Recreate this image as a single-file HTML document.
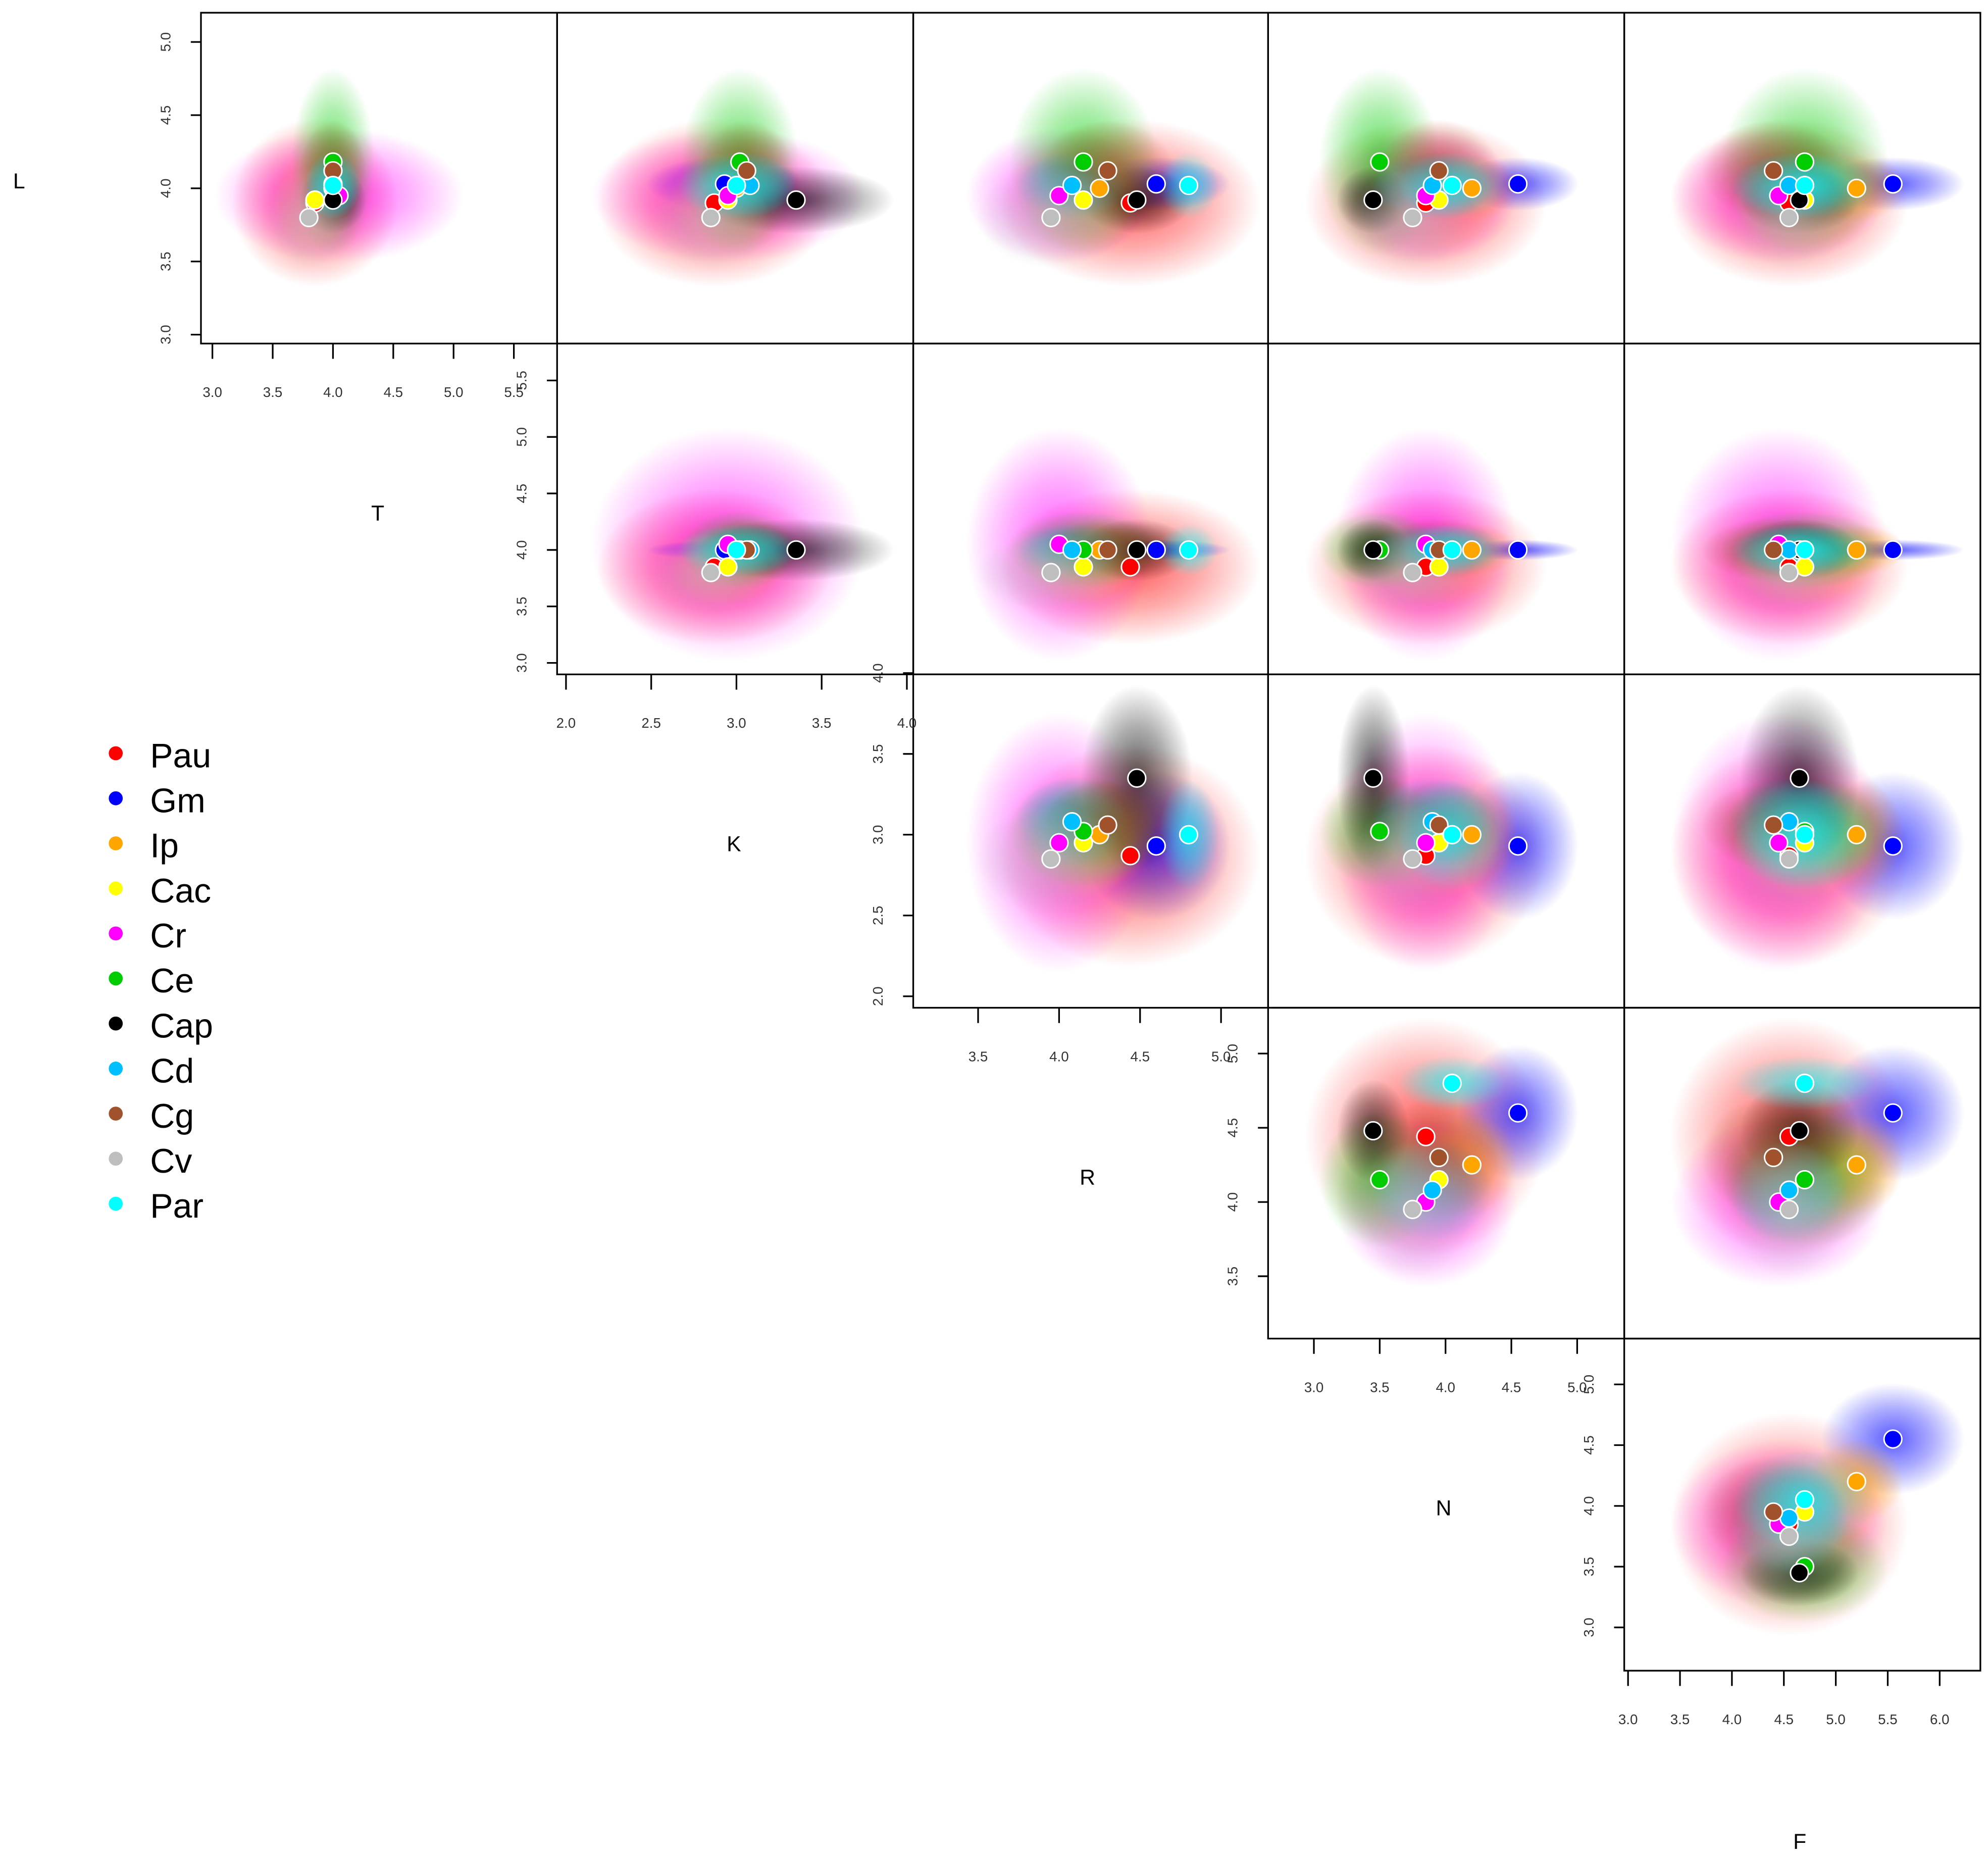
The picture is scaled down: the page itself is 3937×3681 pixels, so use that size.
<!DOCTYPE html>
<html><head><meta charset="utf-8"><style>
html,body{margin:0;padding:0;background:#fff}
svg{display:block}
text{font-family:"Liberation Sans",sans-serif}
</style></head><body>
<svg id="chart" xmlns="http://www.w3.org/2000/svg" width="3937" height="3681" viewBox="0 0 1563 1461" preserveAspectRatio="none">
<defs id="defs"></defs>
<g id="clouds"></g>
<g id="means"></g>
<g id="frames"></g>
<g id="axes"></g>
<g id="legend"></g>
</svg>
<script>
// ---- data ----
const variables = ["L","T","K","R","N","F"];
const species = ["Pau","Gm","Ip","Cac","Cr","Ce","Cap","Cd","Cg","Cv","Par"];
const colors = ["#ff0000","#0000ff","#ffa500","#ffff00","#ff00ff","#00cc00","#000000","#00bfff","#a0522d","#bebebe","#00ffff"];
// means per species: L, T, K, R, N, F
const meanPau = [3.90,3.85,2.87,4.44,3.85,4.55];
const meanGm  = [4.03,4.00,2.93,4.60,4.55,5.55];
const meanIp  = [4.00,4.00,3.00,4.25,4.20,5.20];
const meanCac = [3.92,3.85,2.95,4.15,3.95,4.70];
const meanCr  = [3.95,4.05,2.95,4.00,3.85,4.45];
const meanCe  = [4.18,4.00,3.02,4.15,3.50,4.70];
const meanCap = [3.92,4.00,3.35,4.48,3.45,4.65];
const meanCd  = [4.02,4.00,3.08,4.08,3.90,4.55];
const meanCg  = [4.12,4.00,3.06,4.30,3.95,4.40];
const meanCv  = [3.80,3.80,2.85,3.95,3.75,4.55];
const meanPar = [4.02,4.00,3.00,4.80,4.05,4.70];
// spread (sd) per species: L, T, K, R, N, F
const sdPau = [0.25,0.30,0.30,0.35,0.40,0.50];
const sdGm  = [0.08,0.04,0.20,0.20,0.20,0.30];
const sdIp  = [0.10,0.10,0.15,0.15,0.15,0.20];
const sdCac = [0.15,0.15,0.15,0.15,0.20,0.30];
const sdCr  = [0.20,0.45,0.35,0.25,0.30,0.45];
const sdCe  = [0.28,0.15,0.15,0.20,0.20,0.35];
const sdCap = [0.10,0.12,0.25,0.15,0.12,0.25];
const sdCd  = [0.10,0.10,0.12,0.15,0.20,0.25];
const sdCg  = [0.15,0.12,0.12,0.18,0.20,0.30];
const sdCv  = [0.15,0.15,0.15,0.20,0.20,0.25];
const sdPar = [0.10,0.10,0.15,0.08,0.18,0.30];
const ticksL = [3.0,3.5,4.0,4.5,5.0];
const ticksT = [3.0,3.5,4.0,4.5,5.0,5.5];
const ticksK = [2.0,2.5,3.0,3.5,4.0];
const ticksR = [3.5,4.0,4.5,5.0];
const ticksN = [3.0,3.5,4.0,4.5,5.0];
const ticksF = [3.0,3.5,4.0,4.5,5.0,5.5,6.0];

const means=[meanPau,meanGm,meanIp,meanCac,meanCr,meanCe,meanCap,meanCd,meanCg,meanCv,meanPar];
const sds=[sdPau,sdGm,sdIp,sdCac,sdCr,sdCe,sdCap,sdCd,sdCg,sdCv,sdPar];
const ticks=[ticksL,ticksT,ticksK,ticksR,ticksN,ticksF];

// ---- layout ----
const colX=[158,438,718,997,1277,1557];
const rowY=[10,270,530,792,1052,1313];
const xs=[
 v=>167+(v-3)/2.5*237,
 v=>445+(v-2)/2*268,
 v=>769+(v-3.5)/1.5*191,
 v=>1033+(v-3)/2*207,
 v=>1280+(v-3)/3*245];
const ys=[
 v=>263-(v-3)/2*230,
 v=>521-(v-3)/2.5*222,
 v=>783-(v-2)/2*254,
 v=>1003-(v-3.5)/1.5*175,
 v=>1279-(v-3)/2*191];
const xunit=[237/2.5,268/2,191/1.5,207/2,245/3];
const yunit=[230/2,222/2.5,254/2,175/1.5,191/2];

const NS="http://www.w3.org/2000/svg";
function mk(tag,attrs,parent){const e=document.createElementNS(NS,tag);for(const k in attrs)e.setAttribute(k,attrs[k]);parent.appendChild(e);return e;}
const defs=document.getElementById('defs');
const gC=document.getElementById('clouds'),gM=document.getElementById('means'),gF=document.getElementById('frames'),gA=document.getElementById('axes'),gL=document.getElementById('legend');

species.forEach((s,i)=>{
 const g=mk('radialGradient',{id:'grad'+i},defs);
 mk('stop',{offset:'0%','stop-color':colors[i],'stop-opacity':'0.65'},g);
 mk('stop',{offset:'55%','stop-color':colors[i],'stop-opacity':'0.32'},g);
 mk('stop',{offset:'100%','stop-color':colors[i],'stop-opacity':'0'},g);
});

for(let r=0;r<5;r++){
 for(let c=r;c<5;c++){
  const x0=colX[c],x1=colX[c+1],y0=rowY[r],y1=rowY[r+1];
  const cp=mk('clipPath',{id:'clip'+r+'_'+c},defs);
  mk('rect',{x:x0,y:y0,width:x1-x0,height:y1-y0},cp);
  const pg=mk('g',{'clip-path':'url(#clip'+r+'_'+c+')'},gC);
  
  
  const mg=mk('g',{'clip-path':'url(#clip'+r+'_'+c+')'},gM);
  species.forEach((s,i)=>{
   const e=mk('ellipse',{cx:xs[c](means[i][c+1]),cy:ys[r](means[i][r]),rx:2.3*sds[i][c+1]*xunit[c],ry:2.3*sds[i][r]*yunit[r],fill:'url(#grad'+i+')'},pg);
   
   
  });
  species.forEach((s,i)=>{
   const m=mk('circle',{cx:xs[c](means[i][c+1]),cy:ys[r](means[i][r]),r:7,fill:colors[i],stroke:'#fff','stroke-width':1.2},mg);
   
   
  });
  const fr=mk('rect',{x:x0,y:y0,width:x1-x0,height:y1-y0,fill:'none',stroke:'#000','stroke-width':1.3},gF);
  
  
 }
 const c=r,x0=colX[c],y1=rowY[r+1];
 const ya=mk('g',{},gA);
 
 
 ticks[r].forEach(v=>{
  const y=ys[r](v);
  mk('line',{x1:x0-8,x2:x0,y1:y,y2:y,stroke:'#000','stroke-width':1.3},ya);
  const t=mk('text',{x:x0-27,y:y,'font-size':11,fill:'#333','text-anchor':'middle',transform:'rotate(-90 '+(x0-27)+' '+y+')','dominant-baseline':'middle'},ya);
  t.textContent=v.toFixed(1);
 });
 const xa=mk('g',{},gA);
 
 
 ticks[c+1].forEach(v=>{
  const x=xs[c](v);
  mk('line',{x1:x,x2:x,y1:y1,y2:y1+12,stroke:'#000','stroke-width':1.3},xa);
  const t=mk('text',{x:x,y:y1+42,'font-size':11,fill:'#333','text-anchor':'middle'},xa);
  t.textContent=v.toFixed(1);
 });
}
const labelPos=[[15,148],[297,409],[577,669],[855,931],[1135,1191],[1415,1453]];
variables.forEach((v,i)=>{
 const t=mk('text',{x:labelPos[i][0],y:labelPos[i][1],'font-size':17,fill:'#000','text-anchor':'middle'},gA);
 t.textContent=v;
 
 
});
species.forEach((s,i)=>{
 const y=595+i*35.4;
 const g=mk('g',{},gL);
 
 
 mk('circle',{cx:91,cy:y-3,r:5.5,fill:colors[i]},g);
 const t=mk('text',{x:118,y:y+8,'font-size':27,fill:'#000'},g);
 t.textContent=s;
});
</script>
</body></html>
